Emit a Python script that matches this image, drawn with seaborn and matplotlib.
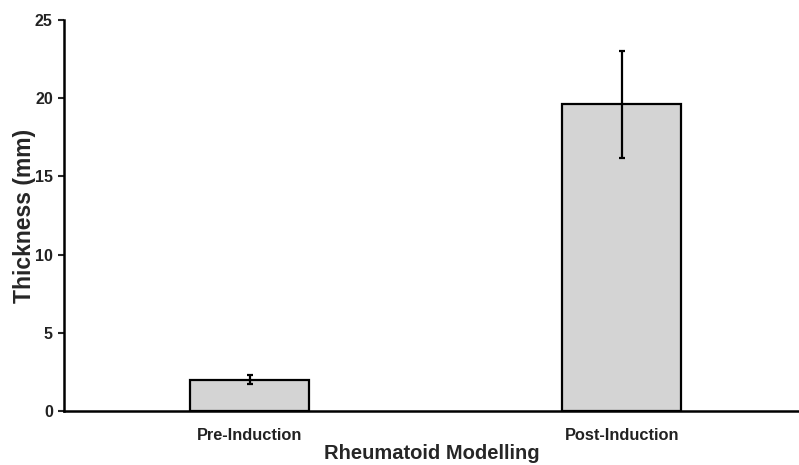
import pandas as pd
import seaborn as sns
import matplotlib.pyplot as plt

# data
groups = ['Pre-Induction', 'Post-Induction']
thickness = [2.0, 19.6]
sd = [0.3, 3.4]

df = pd.DataFrame({'group': groups, 'thickness': thickness, 'sd': sd})

sns.set_style("white")
plt.rcParams['font.family'] = ['Liberation Sans', 'DejaVu Sans']
plt.rcParams['font.weight'] = 'bold'

fig = plt.figure(figsize=(7.99, 4.65), dpi=100)
ax = fig.add_axes([0.080, 0.116, 0.92, 0.841])

sns.barplot(x='group', y='thickness', data=df, ax=ax, errorbar=None,
            color='#d4d4d4', width=0.32, edgecolor='black', linewidth=1.6,
            saturation=1)

ax.errorbar(range(len(groups)), df['thickness'], yerr=df['sd'], fmt='none',
            ecolor='black', elinewidth=1.6, capsize=2.5, capthick=1.6)

ax.set_xlim(-0.5, 1.476)
ax.set_ylim(0, 25)
ax.set_yticks([0, 5, 10, 15, 20, 25])

for s in ['top', 'right']:
    ax.spines[s].set_visible(False)
for s in ['left', 'bottom']:
    ax.spines[s].set_linewidth(1.8)
    ax.spines[s].set_color('black')

ax.tick_params(axis='y', left=True, length=4, width=1.5, labelsize=11.5, pad=4)
ax.tick_params(axis='x', bottom=False, labelsize=11.8, pad=9)
for lab in ax.get_xticklabels() + ax.get_yticklabels():
    lab.set_fontweight('bold')
    lab.set_color('#222222')

ax.set_ylabel('Thickness (mm)', fontsize=16.5, fontweight='bold', labelpad=-1.2)
ax.set_xlabel('Rheumatoid Modelling', fontsize=14.5, fontweight='bold', labelpad=0.5)

fig.savefig('out.png', dpi=100)
